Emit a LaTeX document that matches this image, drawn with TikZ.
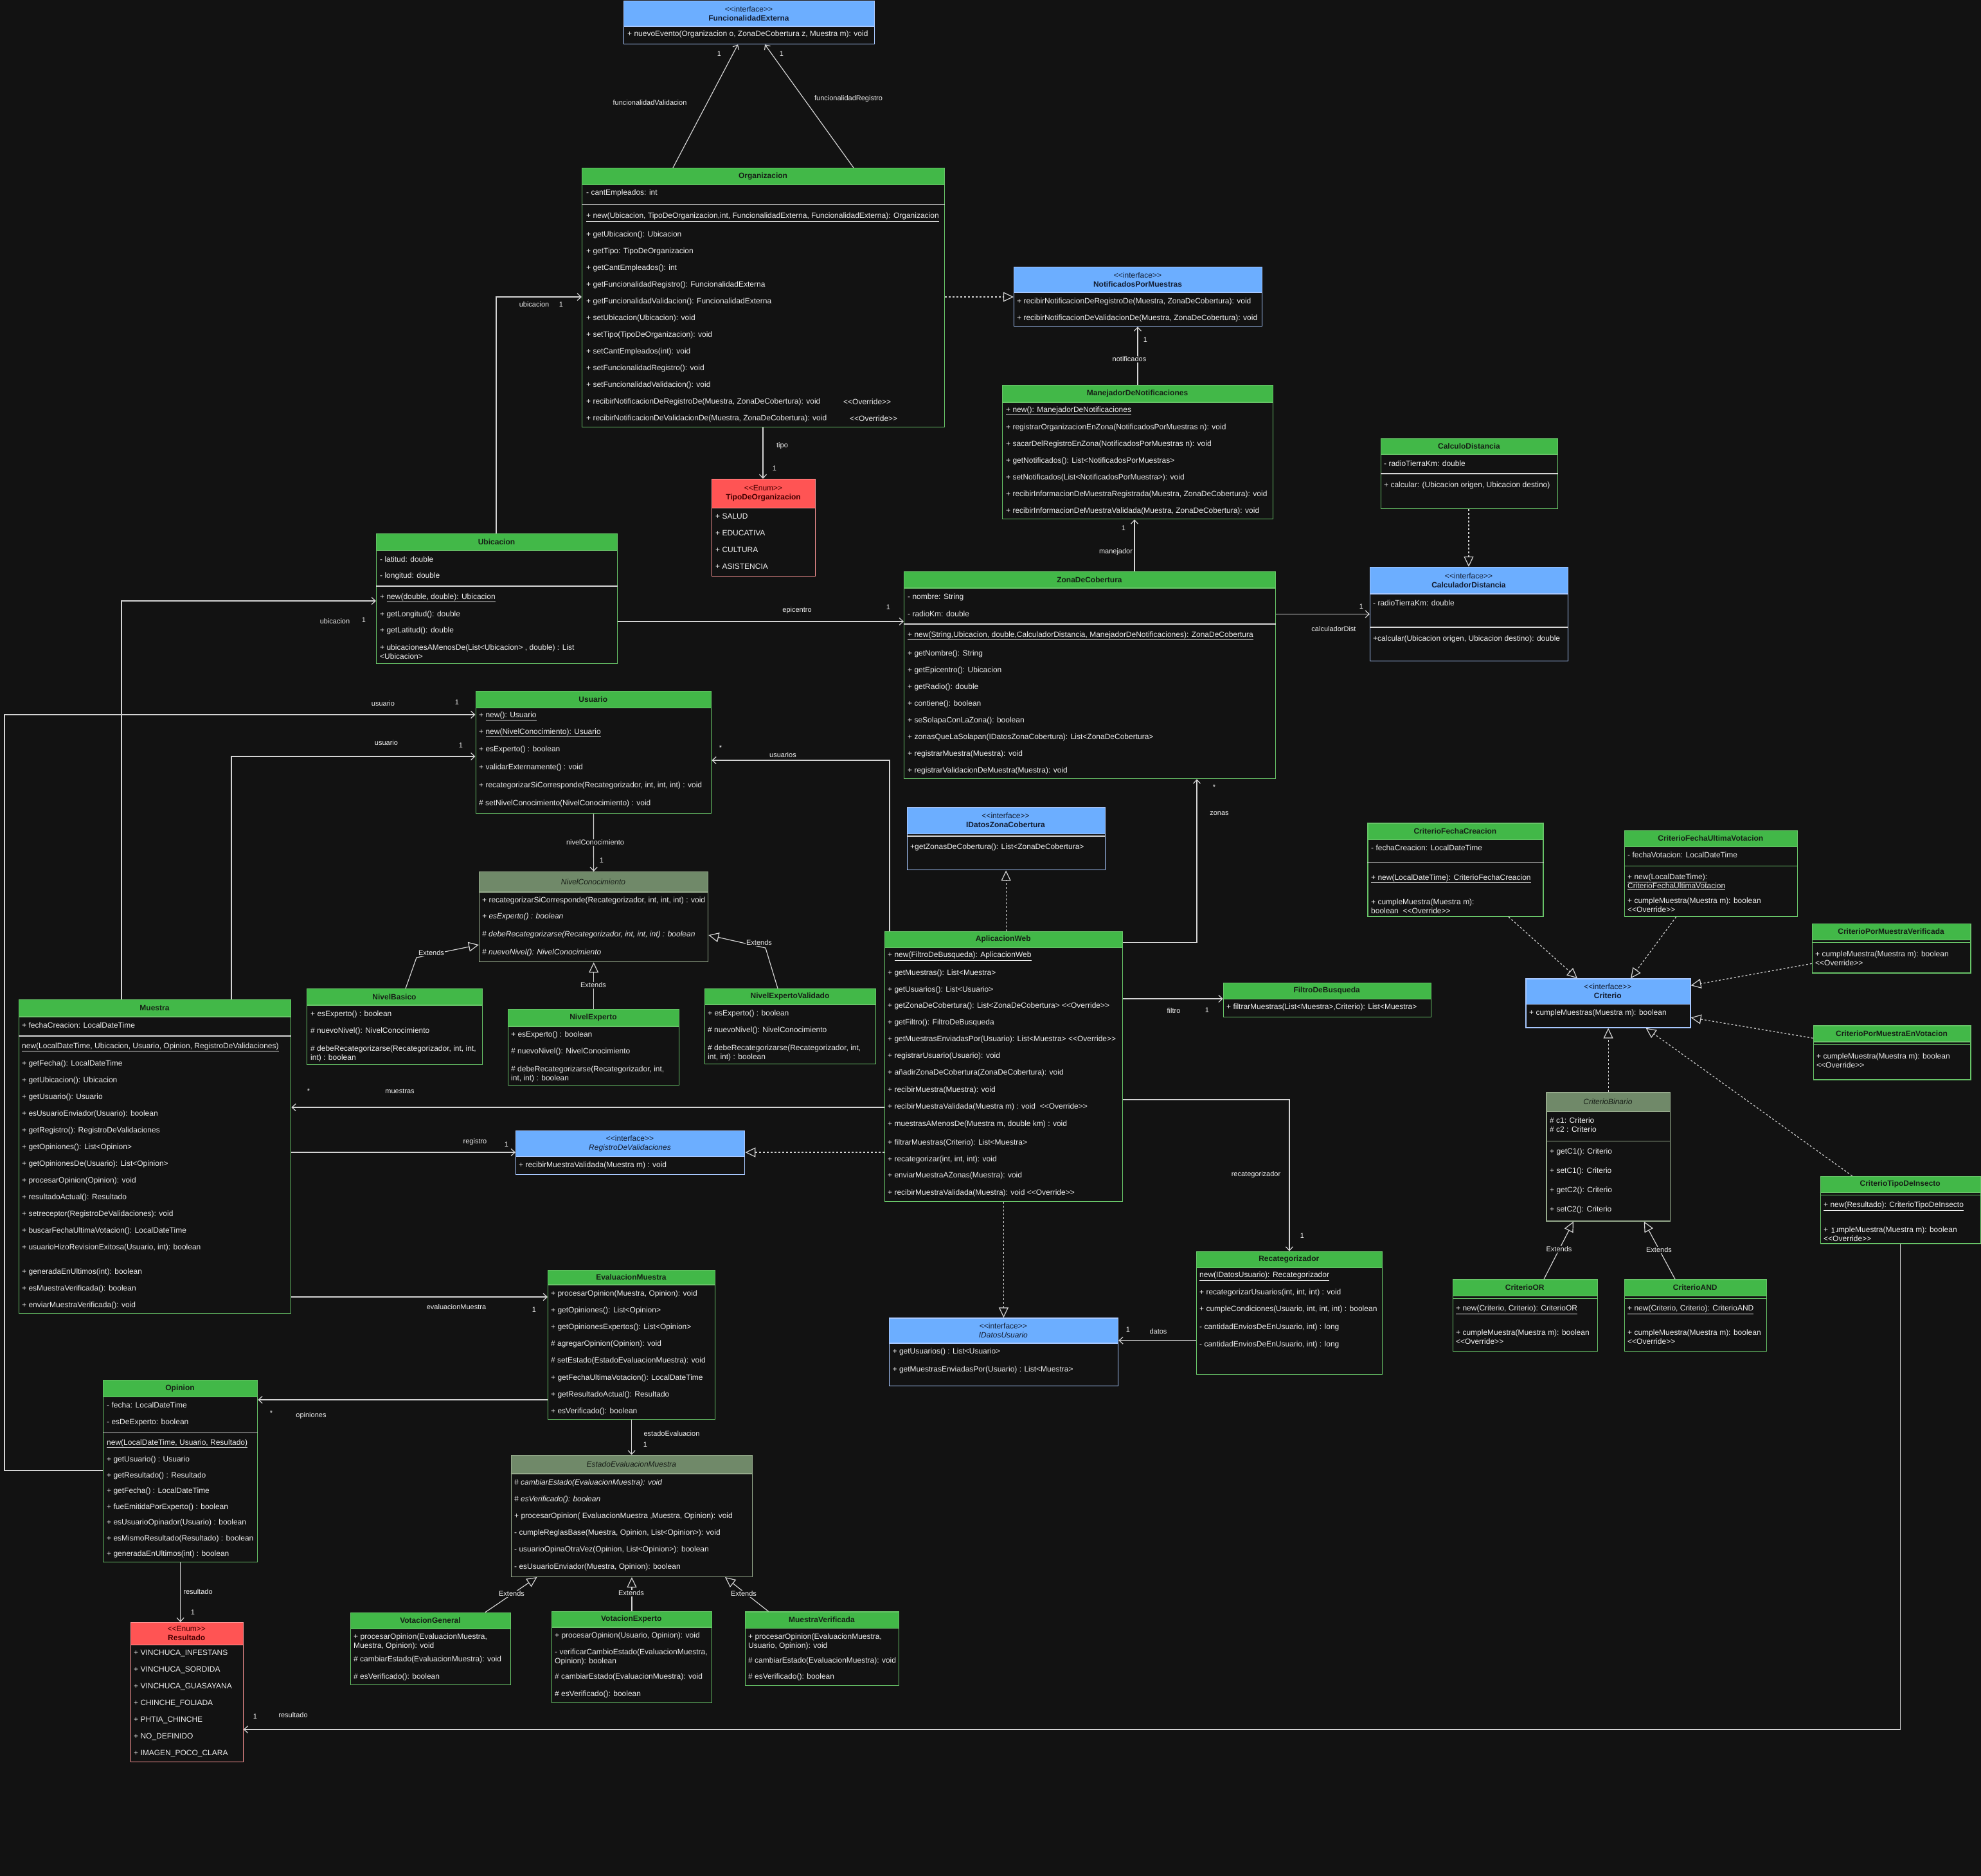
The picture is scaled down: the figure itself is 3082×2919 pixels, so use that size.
\documentclass[tikz,border=0pt]{standalone}
\usepackage{fontspec}
\setmainfont{Liberation Sans}
\usetikzlibrary{arrows.meta}

% palette
\definecolor{bg}{RGB}{18,18,18}
\definecolor{txt}{RGB}{238,238,238}
\definecolor{lnc}{RGB}{212,212,212}
\definecolor{sepc}{RGB}{215,215,215}
\definecolor{grnhd}{RGB}{66,184,72}
\definecolor{grnbd}{RGB}{104,196,104}
\definecolor{grntx}{RGB}{22,32,22}
\definecolor{bluhd}{RGB}{108,174,255}
\definecolor{blubd}{RGB}{168,200,255}
\definecolor{blutx}{RGB}{18,28,48}
\definecolor{redhd}{RGB}{255,84,84}
\definecolor{redbd}{RGB}{255,150,150}
\definecolor{redtx}{RGB}{70,0,0}
\definecolor{abshd}{RGB}{112,137,105}
\definecolor{absbd}{RGB}{150,170,140}
\definecolor{abstx}{RGB}{22,28,22}

\newcommand\ovr{<{}<Override>{}>}
\newcommand\stI{<{}<interface>{}>}
\newcommand\stE{<{}<Enum>{}>}

\tikzset{
  box/.style={inner sep=0pt, line width=1.3pt},
  title/.style={inner sep=0pt, align=center, font=\fontsize{12}{14}\selectfont},
  rt/.style={anchor=west, inner sep=0pt, align=left, text=txt, font=\fontsize{12}{14}\selectfont},
  lbl/.style={inner sep=1pt, text=txt, font=\fontsize{11}{13}\selectfont},
  lblbg/.style={lbl, fill=bg},
  assoc/.style={draw=lnc, line width=1.2pt, -{Straight Barb[length=6pt,width=11pt]}},
  real/.style={draw=lnc, line width=1.2pt, dash pattern=on 3pt off 3pt, -{Triangle[length=16pt,width=15pt,fill=bg]}},
  gen/.style={draw=lnc, line width=1.2pt, -{Triangle[length=16pt,width=15pt,fill=bg]}},
}

% #1 name, #2 x1, #3 y1, #4 x2, #5 y2, #6 header bottom, #7 kind, #8 title
\newcommand\umlbox[8]{%
  \fill[#7hd] (#2,#3) rectangle (#4,#6);
  \draw[#7bd, line width=1.3pt] (#2,#6) -- (#4,#6);
  \node[box, draw=#7bd, anchor=north west, minimum width=#4pt-#2pt, minimum height=#5pt-#3pt] (#1) at (#2,#3) {};
  \node[title, text=#7tx] (#1-t) at ({(#2+#4)/2},{(#3+#6)/2}) {#8};
}
% compartment divider
\newcommand\sepline[3][sepc]{\draw[#1, line width=1.3pt] (#2.west |- 0,#3) -- (#2.east |- 0,#3);}
% member rows: prefix, x, list of y/text
\newcommand\rows[3]{%
  \foreach \yy/\rowtext [count=\i] in {#3} {\node[rt] (#1-\i) at (#2,\yy) {\rowtext};}%
}

\begin{document}
\begin{tikzpicture}[x=1pt,y=-1pt]
\fill[bg] (0,0) rectangle (3082,2919);
\useasboundingbox (0,0) rectangle (3082,2919);

% ---------------- classes ----------------
\umlbox{funcExt}{970}{1}{1360}{68}{41}{blu}{\stI\\\textbf{FuncionalidadExterna}}
\rows{funcExt}{976}{53.8/{+ nuevoEvento(Organizacion o, ZonaDeCobertura z, Muestra m): void}}

\umlbox{org}{905}{261}{1469}{664}{287.5}{grn}{\textbf{Organizacion}}
\sepline{org}{318.7}
\rows{org}{912}{300.5/{- cantEmpleados: int},
  337.8/{\underline{+ new(Ubicacion, TipoDeOrganizacion,int, FuncionalidadExterna, FuncionalidadExterna): Organizacion}},
  365.6/{+ getUbicacion(): Ubicacion},
  391.6/{+ getTipo: TipoDeOrganizacion},
  417.6/{+ getCantEmpleados(): int},
  443.6/{+ getFuncionalidadRegistro(): FuncionalidadExterna},
  469.6/{+ getFuncionalidadValidacion(): FuncionalidadExterna},
  495.6/{+ setUbicacion(Ubicacion): void},
  521.6/{+ setTipo(TipoDeOrganizacion): void},
  547.6/{+ setCantEmpleados(int): void},
  573.6/{+ setFuncionalidadRegistro(): void},
  599.6/{+ setFuncionalidadValidacion(): void},
  625.6/{+ recibirNotificacionDeRegistroDe(Muestra, ZonaDeCobertura): void},
  651.6/{+ recibirNotificacionDeValidacionDe(Muestra, ZonaDeCobertura): void}}
\node[rt] (org-o1) at (1312,625.6) {\ovr};
\node[rt] (org-o2) at (1322,651.6) {\ovr};

\umlbox{notif}{1577}{415}{1963}{507}{455}{blu}{\stI\\\textbf{NotificadosPorMuestras}}
\rows{notif}{1582}{469/{+ recibirNotificacionDeRegistroDe(Muestra, ZonaDeCobertura): void},
  495/{+ recibirNotificacionDeValidacionDe(Muestra, ZonaDeCobertura): void}}

\umlbox{manej}{1559}{599}{1980}{807}{626}{grn}{\textbf{ManejadorDeNotificaciones}}
\rows{manej}{1565}{639/{\underline{+ new(): ManejadorDeNotificaciones}},
  665/{+ registrarOrganizacionEnZona(NotificadosPorMuestras n): void},
  691/{+ sacarDelRegistroEnZona(NotificadosPorMuestras n): void},
  717/{+ getNotificados(): List<NotificadosPorMuestras>},
  743/{+ setNotificados(List<NotificadosPorMuestra>): void},
  769/{+ recibirInformacionDeMuestraRegistrada(Muestra, ZonaDeCobertura): void},
  795/{+ recibirInformacionDeMuestraValidada(Muestra, ZonaDeCobertura): void}}

\umlbox{calculo}{2148}{682}{2423}{791}{707}{grn}{\textbf{CalculoDistancia}}
\sepline{calculo}{737}
\rows{calculo}{2153}{721/{- radioTierraKm: double}, 755/{+ calcular: (Ubicacion origen, Ubicacion destino)}}

\umlbox{calcDist}{2131}{882}{2439}{1028}{924}{blu}{\stI\\\textbf{CalculadorDistancia}}
\sepline{calcDist}{976}
\rows{calcDist}{2136}{938/{- radioTierraKm: double}, 994/{+calcular(Ubicacion origen, Ubicacion destino): double}}

\umlbox{zona}{1406}{889}{1984}{1211}{915}{grn}{\textbf{ZonaDeCobertura}}
\sepline{zona}{971}
\rows{zona}{1412}{929/{- nombre: String}, 955/{- radioKm: double},
  989/{\underline{+ new(String,Ubicacion, double,CalculadorDistancia, ManejadorDeNotificaciones): ZonaDeCobertura}},
  1017/{+ getNombre(): String},
  1043/{+ getEpicentro(): Ubicacion},
  1069/{+ getRadio(): double},
  1095/{+ contiene(): boolean},
  1121/{+ seSolapaConLaZona(): boolean},
  1147/{+ zonasQueLaSolapan(IDatosZonaCobertura): List<ZonaDeCobertura>},
  1173/{+ registrarMuestra(Muestra): void},
  1199/{+ registrarValidacionDeMuestra(Muestra): void}}

\umlbox{tipoOrg}{1107}{745}{1268}{896}{790.6}{red}{\stE\\\textbf{TipoDeOrganizacion}}
\rows{tipoOrg}{1113}{803/{+ SALUD}, 829/{+ EDUCATIVA}, 855/{+ CULTURA}, 881/{+ ASISTENCIA}}

\umlbox{ubic}{585}{830}{960}{1032}{856.7}{grn}{\textbf{Ubicacion}}
\sepline{ubic}{912}
\rows{ubic}{591}{870/{- latitud: double}, 896/{- longitud: double},
  930/{+ \underline{new(double, double): Ubicacion}},
  956/{+ getLongitud(): double},
  981.5/{+ getLatitud(): double},
  1014.6/{+ ubicacionesAMenosDe(List<Ubicacion> , double) : List\\<Ubicacion>}}

\umlbox{usuario}{739.5}{1075}{1106}{1265}{1101.6}{grn}{\textbf{Usuario}}
\rows{usuario}{745}{1114.7/{+ \underline{new(): Usuario}},
  1140.5/{+ \underline{new(NivelConocimiento): Usuario}},
  1166.3/{+ esExperto() : boolean},
  1194.5/{+ validarExternamente() : void},
  1222.4/{+ recategorizarSiCorresponde(Recategorizador, int, int, int) : void},
  1250/{\# setNivelConocimiento(NivelConocimiento) : void}}

\umlbox{nivel}{745}{1356}{1101}{1496}{1388}{abs}{\textit{NivelConocimiento}}
\rows{nivel}{750}{1401/{+ recategorizarSiCorresponde(Recategorizador, int, int, int) : void},
  1426/{\textit{+ esExperto() : boolean}},
  1454/{\textit{\# debeRecategorizarse(Recategorizador, int, int, int) : boolean}},
  1482/{\textit{\# nuevoNivel(): NivelConocimiento}}}

\umlbox{nivBas}{477}{1538}{750}{1656}{1564}{grn}{\textbf{NivelBasico}}
\rows{nivBas}{483}{1578/{+ esExperto() : boolean}, 1604/{\# nuevoNivel(): NivelConocimiento},
  1639/{\# debeRecategorizarse(Recategorizador, int, int,\\int) : boolean}}

\umlbox{nivExp}{790}{1570}{1056}{1688}{1597}{grn}{\textbf{NivelExperto}}
\rows{nivExp}{795}{1610/{+ esExperto() : boolean}, 1636/{\# nuevoNivel(): NivelConocimiento},
  1671/{\# debeRecategorizarse(Recategorizador, int,\\int, int) : boolean}}

\umlbox{nivExpVal}{1096}{1538}{1362}{1655}{1563}{grn}{\textbf{NivelExpertoValidado}}
\rows{nivExpVal}{1101}{1577/{+ esExperto() : boolean}, 1603/{\# nuevoNivel(): NivelConocimiento},
  1638/{\# debeRecategorizarse(Recategorizador, int,\\int, int) : boolean}}

\umlbox{muestra}{29}{1555}{452}{2043}{1582}{grn}{\textbf{Muestra}}
\sepline{muestra}{1612}
\rows{muestra}{34}{1595/{+ fechaCreacion: LocalDateTime},
  1629/{\underline{new(LocalDateTime, Ubicacion, Usuario, Opinion, RegistroDeValidaciones)}},
  1655/{+ getFecha(): LocalDateTime},
  1681/{+ getUbicacion(): Ubicacion},
  1707/{+ getUsuario(): Usuario},
  1733/{+ esUsuarioEnviador(Usuario): boolean},
  1759/{+ getRegistro(): RegistroDeValidaciones},
  1785/{+ getOpiniones(): List<Opinion>},
  1811/{+ getOpinionesDe(Usuario): List<Opinion>},
  1837/{+ procesarOpinion(Opinion): void},
  1863/{+ resultadoActual(): Resultado},
  1889/{+ setreceptor(RegistroDeValidaciones): void},
  1915/{+ buscarFechaUltimaVotacion(): LocalDateTime},
  1941/{+ usuarioHizoRevisionExitosa(Usuario, int): boolean},
  1979/{+ generadaEnUltimos(int): boolean},
  2005/{+ esMuestraVerificada(): boolean},
  2031/{+ enviarMuestraVerificada(): void}}

\umlbox{regVal}{802}{1759}{1158}{1827}{1799.5}{blu}{\stI\\\textit{RegistroDeValidaciones}}
\rows{regVal}{807}{1813/{+ recibirMuestraValidada(Muestra m) : void}}

\umlbox{evalM}{852}{1975.5}{1112}{2208}{1999}{grn}{\textbf{EvaluacionMuestra}}
\rows{evalM}{857}{2013/{+ procesarOpinion(Muestra, Opinion): void},
  2039/{+ getOpiniones(): List<Opinion>},
  2065.5/{+ getOpinionesExpertos(): List<Opinion>},
  2091.5/{\# agregarOpinion(Opinion): void},
  2117.7/{\# setEstado(EstadoEvaluacionMuestra): void},
  2144/{+ getFechaUltimaVotacion(): LocalDateTime},
  2170/{+ getResultadoActual(): Resultado},
  2196/{+ esVerificado(): boolean}}

\umlbox{opinion}{160}{2147}{400}{2430}{2173.5}{grn}{\textbf{Opinion}}
\sepline{opinion}{2229.4}
\rows{opinion}{166}{2186.5/{- fecha: LocalDateTime}, 2213/{- esDeExperto: boolean},
  2246.5/{\underline{new(LocalDateTime, Usuario, Resultado)}},
  2271.8/{+ getUsuario() : Usuario},
  2296.3/{+ getResultado() : Resultado},
  2320.8/{+ getFecha() : LocalDateTime},
  2345.3/{+ fueEmitidaPorExperto() : boolean},
  2369.8/{+ esUsuarioOpinador(Usuario) : boolean},
  2394.3/{+ esMismoResultado(Resultado) : boolean},
  2418.8/{+ generadaEnUltimos(int) : boolean}}

\umlbox{resultado}{203}{2524}{377.5}{2741}{2559.6}{red}{\stE\\\textbf{Resultado}}
\rows{resultado}{208}{2572.7/{+ VINCHUCA\_INFESTANS}, 2598.7/{+ VINCHUCA\_SORDIDA},
  2624.7/{+ VINCHUCA\_GUASAYANA}, 2650.7/{+ CHINCHE\_FOLIADA}, 2676.7/{+ PHTIA\_CHINCHE},
  2702.7/{+ NO\_DEFINIDO}, 2728.7/{+ IMAGEN\_POCO\_CLARA}}

\umlbox{estado}{794.7}{2263.7}{1170}{2452.7}{2293}{abs}{\textit{EstadoEvaluacionMuestra}}
\rows{estado}{800}{2307/{\textit{\# cambiarEstado(EvaluacionMuestra): void}},
  2333/{\textit{\# esVerificado(): boolean}},
  2359/{+ procesarOpinion( EvaluacionMuestra ,Muestra, Opinion): void},
  2385/{- cumpleReglasBase(Muestra, Opinion, List<Opinion>): void},
  2411/{- usuarioOpinaOtraVez(Opinion, List<Opinion>): boolean},
  2438.8/{- esUsuarioEnviador(Muestra, Opinion): boolean}}

\umlbox{votGen}{545}{2508.6}{794}{2621}{2534.7}{grn}{\textbf{VotacionGeneral}}
\rows{votGen}{550}{2554.5/{+ procesarOpinion(EvaluacionMuestra,\\Muestra, Opinion): void},
  2582.4/{\# cambiarEstado(EvaluacionMuestra): void}, 2609/{\# esVerificado(): boolean}}

\umlbox{votExp}{857.6}{2506.5}{1107}{2648.6}{2532}{grn}{\textbf{VotacionExperto}}
\rows{votExp}{863}{2545.7/{+ procesarOpinion(Usuario, Opinion): void},
  2578.5/{- verificarCambioEstado(EvaluacionMuestra,\\Opinion): boolean},
  2609.8/{\# cambiarEstado(EvaluacionMuestra): void}, 2636/{\# esVerificado(): boolean}}

\umlbox{muestraVer}{1158.8}{2507.3}{1398}{2622}{2533.5}{grn}{\textbf{MuestraVerificada}}
\rows{muestraVer}{1164}{2554/{+ procesarOpinion(EvaluacionMuestra,\\Usuario, Opinion): void},
  2584/{\# cambiarEstado(EvaluacionMuestra): void}, 2609.8/{\# esVerificado(): boolean}}

\umlbox{app}{1375.5}{1448.6}{1746}{1868.6}{1474.7}{grn}{\textbf{AplicacionWeb}}
\rows{app}{1381}{1487.8/{+ \underline{new(FiltroDeBusqueda): AplicacionWeb}},
  1513.9/{+ getMuestras(): List<Muestra>},
  1540/{+ getUsuarios(): List<Usuario>},
  1565.7/{+ getZonaDeCobertura(): List<ZonaDeCobertura> \ovr},
  1591.8/{+ getFiltro(): FiltroDeBusqueda},
  1617.6/{+ getMuestrasEnviadasPor(Usuario): List<Muestra> \ovr},
  1643.7/{+ registrarUsuario(Usuario): void},
  1669.8/{+ añadirZonaDeCobertura(ZonaDeCobertura): void},
  1695.9/{+ recibirMuestra(Muestra): void},
  1722/{+ recibirMuestraValidada(Muestra m) : void \ \ovr},
  1749.8/{+ muestrasAMenosDe(Muestra m, double km) : void},
  1778/{+ filtrarMuestras(Criterio): List<Muestra>},
  1804/{+ recategorizar(int, int, int): void},
  1829.8/{+ enviarMuestraAZonas(Muestra): void},
  1856/{+ recibirMuestraValidada(Muestra): void \ovr}}

\umlbox{filtro}{1902.7}{1528.6}{2225.7}{1582}{1554.7}{grn}{\textbf{FiltroDeBusqueda}}
\rows{filtro}{1908}{1567.8/{+ filtrarMuestras(List<Muestra>,Criterio): List<Muestra>}}

\umlbox{idz}{1410.5}{1255.5}{1718.5}{1353}{1297.6}{blu}{\stI\\\textbf{IDatosZonaCobertura}}
\sepline{idz}{1301}
\rows{idz}{1416}{1318.8/{+getZonasDeCobertura(): List<ZonaDeCobertura>}}

\umlbox{recat}{1860.7}{1946.7}{2149.8}{2138}{1972.7}{grn}{\textbf{Recategorizador}}
\rows{recat}{1866}{1985.7/{\underline{new(IDatosUsuario): Recategorizador}},
  2011.7/{+ recategorizarUsuarios(int, int, int) : void},
  2037.7/{+ cumpleCondiciones(Usuario, int, int, int) : boolean},
  2065/{- cantidadEnviosDeEnUsuario, int) : long},
  2092/{- cantidadEnviosDeEnUsuario, int) : long}}

\umlbox{idu}{1382.7}{2050.3}{1739}{2156}{2090}{blu}{\stI\\\textit{IDatosUsuario}}
\rows{idu}{1388.5}{2103.7/{+ getUsuarios() : List<Usuario>}, 2131.7/{+ getMuestrasEnviadasPor(Usuario) : List<Muestra>}}

\umlbox{critFC}{2127.4}{1280.3}{2400.4}{1425.3}{1306.3}{grn}{\textbf{CriterioFechaCreacion}}
\sepline{critFC}{1342.3}
\rows{critFC}{2133}{1319.7/{- fechaCreacion: LocalDateTime},
  1367/{\underline{+ new(LocalDateTime): CriterioFechaCreacion}},
  1409.7/{+ cumpleMuestra(Muestra m):\\boolean \ \ovr}}

\umlbox{critFUV}{2526.7}{1291.7}{2796}{1425.3}{1317.7}{grn}{\textbf{CriterioFechaUltimaVotacion}}
\sepline[grnbd]{critFUV}{1347.3}
\rows{critFUV}{2532}{1330.7/{- fechaVotacion: LocalDateTime},
  1371.9/{\underline{+ new(LocalDateTime):}\\\underline{CriterioFechaUltimaVotacion}},
  1407.7/{+ cumpleMuestra(Muestra m): boolean\\\ovr}}

\umlbox{critPMV}{2818.8}{1436.7}{3065.4}{1513.3}{1462.3}{grn}{\textbf{CriterioPorMuestraVerificada}}
\sepline[grnbd]{critPMV}{1466.7}
\rows{critPMV}{2824}{1490.9/{+ cumpleMuestra(Muestra m): boolean\\\ovr}}

\umlbox{critPMEV}{2820.6}{1595.3}{3065.4}{1679.3}{1621}{grn}{\textbf{CriterioPorMuestraEnVotacion}}
\sepline[grnbd]{critPMEV}{1625.3}
\rows{critPMEV}{2826}{1649.9/{+ cumpleMuestra(Muestra m): boolean\\\ovr}}

\umlbox{criterio}{2373.4}{1522.3}{2629.2}{1598.3}{1562.3}{blu}{\stI\\\textbf{Criterio}}
\rows{criterio}{2379}{1576/{+ cumpleMuestras(Muestra m): boolean}}

\umlbox{critBin}{2405.3}{1699.3}{2597.6}{1899.3}{1729.3}{abs}{\textit{CriterioBinario}}
\sepline[absbd]{critBin}{1775.3}
\rows{critBin}{2411}{1749.7/{\# c1: Criterio\\\# c2 : Criterio},
  1792.7/{+ getC1(): Criterio}, 1822.7/{+ setC1(): Criterio},
  1852.7/{+ getC2(): Criterio}, 1882.7/{+ setC2(): Criterio}}

\umlbox{critOR}{2259.6}{1990.3}{2485}{2102}{2016.3}{grn}{\textbf{CriterioOR}}
\sepline[grnbd]{critOR}{2020.3}
\rows{critOR}{2265}{2037.7/{\underline{+ new(Criterio, Criterio): CriterioOR}},
  2080.3/{+ cumpleMuestra(Muestra m): boolean\\\ovr}}

\umlbox{critAND}{2526.8}{1990.3}{2747.8}{2102}{2016.3}{grn}{\textbf{CriterioAND}}
\sepline[grnbd]{critAND}{2020.3}
\rows{critAND}{2532}{2037.7/{\underline{+ new(Criterio, Criterio): CriterioAND}},
  2080.3/{+ cumpleMuestra(Muestra m): boolean\\\ovr}}

\umlbox{critTI}{2831.6}{1829.7}{3080.8}{1934.3}{1855.3}{grn}{\textbf{CriterioTipoDeInsecto}}
\sepline[grnbd]{critTI}{1859.3}
\rows{critTI}{2837}{1876.7/{\underline{+ new(Resultado): CriterioTipoDeInsecto}},
  1919.7/{+ cumpleMuestra(Muestra m): boolean\\\ovr}}

% ---------------- connectors ----------------
\draw[assoc] (org.north -| 1047,0) -- (funcExt.south -| 1148,0);
\draw[assoc] (org.north -| 1328,0) -- (funcExt.south -| 1190,0);
\draw[real] (org.east |- 0,462) -- (notif.west |- 0,462);
\draw[assoc] (ubic.north -| 772,0) |- (org.west |- 0,462);
\draw[assoc] (org.south -| 1187,0) -- (tipoOrg.north -| 1187,0);
\draw[assoc] (manej.north -| 1770,0) -- (notif.south -| 1770,0);
\draw[assoc] (zona.north -| 1765,0) -- (manej.south -| 1765,0);
\draw[real] (calculo.south -| 2285,0) -- (calcDist.north -| 2285,0);
\draw[assoc] (zona.east |- 0,955.5) -- (calcDist.west |- 0,955.5);
\draw[assoc] (ubic.east |- 0,967) -- (zona.west |- 0,967);
\draw[assoc] (muestra.north -| 189,0) |- (ubic.west |- 0,935);
\draw[assoc] (opinion.west |- 0,2288) -- ++(-153,0) |- (usuario.west |- 0,1112);
\draw[assoc] (muestra.north -| 360,0) |- (usuario.west |- 0,1177);
\draw[assoc] (app.north -| 1384,0) |- (usuario.east |- 0,1183);
\draw[assoc] (usuario.south) -- (nivel.north);
\draw[gen] (nivBas.north -| 631,0) -- (648,1490) -- (nivel.west |- 0,1470);
\draw[gen] (nivExp.north) -- (nivel.south);
\draw[gen] (nivExpVal.north -| 1210,0) -- (1191,1475) -- (nivel.east |- 0,1455);
\draw[assoc] (app.west |- 0,1723) -- (muestra.east |- 0,1723);
\draw[assoc] (muestra.east |- 0,1793) -- (regVal.west |- 0,1793);
\draw[real] (app.west |- 0,1793) -- (regVal.east |- 0,1793);
\draw[assoc] (muestra.east |- 0,2018) -- (evalM.west |- 0,2018);
\draw[assoc] (evalM.west |- 0,2178) -- (opinion.east |- 0,2178);
\draw[assoc] (opinion.south) -- (resultado.north -| opinion.south);
\draw[assoc] (evalM.south) -- (estado.north -| evalM.south);
\draw[gen] (votGen.north -| 755,0) -- (estado.south -| 835.5,0);
\draw[gen] (votExp.north) -- (estado.south -| votExp.north);
\draw[gen] (muestraVer.north -| 1195.5,0) -- (estado.south -| 1128,0);
\draw[assoc] (app.east |- 0,1466.5) -| (zona.south -| 1862,0);
\draw[real] (app.north -| idz.south) -- (idz.south);
\draw[assoc] (app.east |- 0,1554) -- (filtro.west |- 0,1554);
\draw[assoc] (app.east |- 0,1711) -| (recat.north);
\draw[real] (app.south) -- (idu.north -| app.south);
\draw[assoc] (recat.west |- 0,2085.7) -- (idu.east |- 0,2085.7);
\draw[real] (critFC.south -| 2347,0) -- (criterio.north -| 2454,0);
\draw[real] (critFUV.south -| 2607.7,0) -- (criterio.north -| 2537,0);
\draw[real] (critPMV.west |- 0,1499.3) -- (criterio.east |- 0,1533.3);
\draw[real] (critPMEV.west |- 0,1615.3) -- (criterio.east |- 0,1583.3);
\draw[real] (critBin.north) -- (criterio.south -| critBin.north);
\draw[real] (critTI.north -| 2881.7,0) -- (criterio.south -| 2560.5,0);
\draw[gen] (critOR.north -| 2402,0) -- (critBin.south -| 2448,0);
\draw[gen] (critAND.north -| 2606,0) -- (critBin.south -| 2557.7,0);
\draw[assoc] (critTI.south -| 2956.5,0) |- (resultado.east |- 0,2691);

% ---------------- connector labels ----------------
\node[lbl] (lfv) at (1011,160) {funcionalidadValidacion};
\node[lbl] (l1a) at (1119,84) {1};
\node[lbl] (lfr) at (1320,153.5) {funcionalidadRegistro};
\node[lbl] (l1b) at (1216,84) {1};
\node[lbl] (lubi) at (831,474) {ubicacion};
\node[lbl] (l1c) at (873,474) {1};
\node[lbl] (ltipo) at (1217,694) {tipo};
\node[lbl] (l1d) at (1205,729) {1};
\node[lbl] (l1e) at (1782,529) {1};
\node[lblbg] (lnotif) at (1757,559) {notificados};
\node[lbl] (l1f) at (1748,822) {1};
\node[lbl] (lmanej) at (1736,859) {manejador};
\node[lbl] (l1g) at (2118,944) {1};
\node[lbl] (lcalc) at (2075,979) {calculadorDist};
\node[lbl] (lepi) at (1240,950) {epicentro};
\node[lbl] (l1h) at (1382,945) {1};
\node[lbl] (lubi2) at (521,967) {ubicacion};
\node[lbl] (l1i) at (566,965) {1};
\node[lbl] (lusu1) at (596,1095) {usuario};
\node[lbl] (l1j) at (711,1093) {1};
\node[lbl] (lusu2) at (601,1156) {usuario};
\node[lbl] (l1k) at (717,1160) {1};
\node[lbl] (lst1) at (1121,1164) {*};
\node[lbl] (lusus) at (1218,1175) {usuarios};
\node[lblbg] (lniv) at (926,1311) {nivelConocimiento};
\node[lbl] (l1l) at (936,1339) {1};
\node[lblbg] (lext1) at (671,1483) {Extends};
\node[lblbg] (lext2) at (923,1533) {Extends};
\node[lblbg] (lext3) at (1181,1467) {Extends};
\node[lbl] (lst2) at (480,1698) {*};
\node[lbl] (lmues) at (622,1698) {muestras};
\node[lbl] (lreg) at (739,1777) {registro};
\node[lbl] (l1m) at (788,1781) {1};
\node[lbl] (leval) at (710,2034) {evaluacionMuestra};
\node[lbl] (l1n) at (831,2038) {1};
\node[lbl] (lst3) at (422,2199) {*};
\node[lbl] (lopin) at (484,2203) {opiniones};
\node[lbl] (lres) at (308,2477) {resultado};
\node[lbl] (l1o) at (300,2509) {1};
\node[lbl] (lest) at (1045,2231) {estadoEvaluacion};
\node[lbl] (l1p) at (1004,2248) {1};
\node[lblbg] (lext4) at (796,2480) {Extends};
\node[lblbg] (lext5) at (982,2479) {Extends};
\node[lblbg] (lext6) at (1157,2480) {Extends};
\node[lbl] (lst4) at (1889,1225) {*};
\node[lbl] (lzon) at (1897,1266) {zonas};
\node[lbl] (lfil) at (1826,1573) {filtro};
\node[lbl] (l1q) at (1878,1572) {1};
\node[lbl] (lrecat) at (1954,1828) {recategorizador};
\node[lbl] (l1r) at (2026,1923) {1};
\node[lbl] (l1s) at (1755,2069) {1};
\node[lbl] (ldat) at (1802,2072) {datos};
\node[lblbg] (lext7) at (2425.5,1944) {Extends};
\node[lblbg] (lext8) at (2581,1945) {Extends};
\node[lbl] (l1t) at (397,2671) {1};
\node[lbl] (lres2) at (456,2669) {resultado};
\node[lbl, fill=bg, inner sep=0.5pt] (l1u) at (2852,1915) {1};
\end{tikzpicture}
\end{document}
